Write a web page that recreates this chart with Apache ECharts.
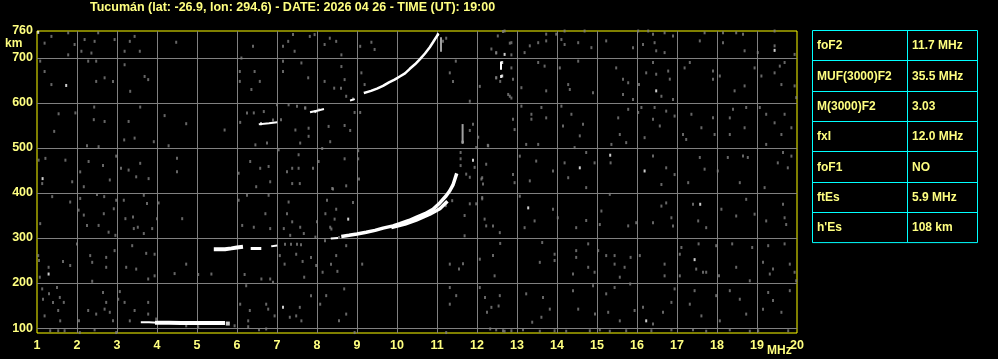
<!DOCTYPE html>
<html><head><meta charset="utf-8">
<script src="https://cdn.jsdelivr.net/npm/echarts@6/dist/echarts.min.js"></script>
<style>html,body{margin:0;padding:0;background:#000;}#c{width:998px;height:359px;}</style>
</head><body><div id="c"></div>
<script>
const titleText = 'Tucumán (lat: -26.9, lon: 294.6) - DATE: 2026 04 26 - TIME (UT): 19:00';
const heightTicks = [100, 200, 300, 400, 500, 600, 700, 760];
const heightGrid = [100, 200, 300, 400, 500, 600, 700];
const paramNames = ['foF2', 'MUF(3000)F2', 'M(3000)F2', 'fxI', 'foF1', 'ftEs', "h'Es"];
const paramValues = ['11.7 MHz', '35.5 MHz', '3.03', '12.0 MHz', 'NO', '5.9 MHz', '108 km'];

// Sporadic E trace
const esThin = [[3.62,113],[3.8,113],[4.0,112]];
const esThick = [[4.0,112],[4.3,112],[4.6,111],[5.0,111],[5.3,111],[5.65,111]];
const esDot = [[5.77,110]];
// F trace (ordinary) segments
const fSeg1 = [[5.47,275],[5.7,275],[5.86,277],[6.0,279],[6.1,280]];
const fSeg2 = [[6.38,277],[6.57,277]];
const fSeg3 = [[6.88,282],[6.98,283]];
const fSeg4 = [[8.37,299],[8.5,300]];
const fMain = [[8.65,304],[8.8,306],[9.0,309],[9.23,313],[9.45,317],[9.65,322],[9.9,327],[10.07,332],[10.3,339],[10.48,346],[10.7,354],[10.9,364],[11.07,378],[11.23,394],[11.32,405],[11.4,418],[11.48,440]];
const fLower = [[9.9,324],[10.2,331],[10.48,340],[10.82,353],[11.07,365],[11.23,379]];
// second hop
const hop2a = [[6.57,553],[6.8,555],[6.98,557]];
const hop2b = [[7.85,580],[8.0,583],[8.15,586]];
const hop2c = [[8.85,606],[8.92,608]];
const hop2d = [[9.2,623],[9.35,627],[9.5,632],[9.65,638],[9.8,646],[9.94,652],[10.07,659],[10.2,666],[10.32,676],[10.45,686],[10.57,697],[10.7,710],[10.82,724],[10.9,735],[11.02,752]];
const spike1 = [[11.1,744],[11.1,716]];
const spike2 = [[11.64,551],[11.64,513]];
const spike3 = [[12.6,690],[12.6,676]];

const noiseWhite = [[1.03,757],[1.73,639],[12.6,659],[12.69,708],[12.63,690],[12.63,660],[19.44,717],[16.48,627],[14.57,456],[15.33,484],[16.19,449],[13.28,367],[17.58,375],[1.14,432],[6.6,554],[7.96,581],[8.78,342],[1.29,220],[7.15,146],[17.44,252],[16.23,116],[11.64,513],[11.9,473],[11.02,752]];

const noiseGray = [
[1.19,733],[1.36,748],[1.08,693],[1.19,670],[1.36,641],[1.78,756],[1.94,730],[1.78,707],[2.11,715],[2.19,741],[2.36,711],[2.28,693],[2.53,756],[2.44,737],[2.48,693],[2.69,656],[2.9,648],[2.48,648],[2.94,741],[3.19,715],[3.19,685],[3.32,737],[3.44,748],[3.57,715],[3.69,659],[3.78,652],[3.33,626],[4.48,735],[6.11,700],[6.07,670],[6.07,648],[6.44,670],[6.57,648],[6.36,630],[6.4,726],[7.15,726],[7.15,693],[7.15,670],[7.28,737],[7.4,752],[7.44,715],[7.61,689],[7.82,748],[7.94,752],[7.78,656],[8.19,730],[8.32,744],[8.48,737],[8.61,707],[8.61,681],[8.69,652],[8.43,633],[8.6,633],[8.19,648],[9.08,726],[9.36,735],[9.44,719],[9.11,667],[9.19,641],[8.73,615],[8.9,609],[11.15,737],[11.23,744],[11.47,693],[11.32,667],[11.4,648],[11.82,604],[12.07,637],[12.36,720],[12.48,711],[12.48,656],[12.58,648],[12.82,733],[12.86,707],[12.78,619],[12.86,611],[12.65,759],
[12.69,760],[12.52,749],[12.48,712],[12.86,734],[13.19,712],[13.32,727],[13.53,734],[13.73,753],[13.73,738],[13.98,753],[14.11,741],[14.19,760],[14.19,730],[14.53,734],[14.69,760],[14.86,723],[15.23,738],[15.9,723],[16.03,760],[16.15,730],[16.28,760],[16.4,753],[16.44,734],[16.48,716],[16.69,756],[16.69,712],[16.9,749],[17.69,756],[17.57,738],[18.15,756],[18.15,734],[18.48,756],[18.65,753],[18.69,716],[19.02,712],[19.44,727],[19.44,760],[19.94,708],
[12.48,656],[12.86,678],[12.9,653],[12.82,615],[13.11,634],[13.53,690],[13.69,682],[13.73,627],[14.07,678],[14.28,641],[14.32,630],[14.53,693],[14.9,623],[15.48,678],[15.65,653],[15.65,619],[15.78,645],[15.9,608],[16.05,641],[16.23,667],[16.4,690],[16.48,664],[16.61,615],[16.78,671],[16.82,653],[16.9,608],[17.32,690],[17.19,678],[17.9,671],[17.9,653],[18.07,660],[18.44,627],[18.69,638],[18.94,678],[19.11,660],[19.44,667],[19.57,682],[19.61,641],[19.69,690],[19.94,638],[19.98,612],
[12.27,506],[12.9,564],[12.94,541],[13.11,593],[13.36,575],[13.36,564],[13.61,590],[13.73,567],[13.23,508],[13.53,508],[14.11,593],[14.36,575],[14.15,549],[14.65,553],[14.57,527],[14.44,501],[15.36,508],[15.53,567],[15.57,530],[15.73,512],[15.78,586],[16.03,579],[16.11,590],[16.44,590],[16.4,564],[16.57,549],[16.73,582],[16.94,571],[16.19,523],[17.15,530],[17.23,519],[17.36,575],[17.61,545],[17.9,567],[17.94,530],[18.4,586],[18.32,567],[18.32,530],[18.69,545],[18.73,590],[19.07,590],[19.23,575],[19.44,556],[19.61,530],[19.69,575],[19.86,545],[19.23,508],
[12.13,434],[12.23,464],[12.9,441],[12.94,423],[13.07,482],[13.32,427],[13.48,471],[13.9,449],[14.19,467],[14.28,434],[14.73,490],[14.73,412],[14.94,467],[15.34,467],[16.4,482],[16.73,456],[16.61,419],[16.94,441],[17.28,423],[17.57,479],[17.69,453],[18.02,449],[18.27,479],[18.57,423],[18.65,482],[18.77,479],[19.19,412],[19.52,467],[19.65,490],[19.86,482],[19.77,456],
[12.13,390],[12.23,327],[12.4,327],[12.57,312],[13.07,393],[13.44,338],[13.19,323],[13.9,364],[14.02,345],[14.48,323],[14.73,339],[15.11,360],[15.07,330],[15.32,397],[15.78,327],[15.98,334],[16.4,334],[16.61,371],[16.73,378],[16.86,345],[16.9,327],[17.4,375],[17.53,338],[17.73,323],[18.11,364],[18.48,349],[18.73,386],[18.94,353],[19.23,338],[19.65,375],[19.69,345],[19.73,330],
[1.54,576],[1.43,537],[1.96,578],[2.43,591],[2.42,563],[2.69,559],[3.29,559],[3.18,518],[3.44,522],[3.58,591],[3.92,514],[4.19,572],[4.73,554],[4.29,505],[5.69,540],[2.25,505],[2.54,503],[6.25,578],[6.42,578],[6.67,581],[7.0,596],[7.29,596],[7.5,593],[7.71,589],[7.46,540],[7.79,544],[7.79,526],[7.58,511],[8.29,548],[8.33,514],[6.46,507],[6.75,511],[6.08,557],[6.9,562],[7.1,563],[7.7,589],[8.05,585],
[1.04,473],[1.21,477],[1.13,421],[1.71,473],[2.08,447],[1.88,425],[2.29,470],[2.65,461],[2.82,429],[3.1,455],[3.29,451],[3.58,466],[3.48,436],[3.79,432],[4.5,477],[4.5,447],[2.17,414],[2.98,482],[6.04,444],[6.33,470],[6.58,455],[6.79,459],[6.83,425],[6.48,414],[7.04,496],[7.25,447],[7.38,455],[7.54,485],[7.54,455],[7.38,421],[7.57,421],[7.9,455],[8.04,470],[8.38,410],[8.13,499],
[1.38,392],[1.83,380],[2.08,388],[2.5,397],[2.68,392],[2.98,384],[3.17,384],[3.67,395],[3.75,377],[4.04,378],[2.04,362],[2.17,351],[2.67,354],[2.92,365],[3.21,343],[3.4,347],[3.52,324],[4.0,343],[4.63,343],[2.25,328],[2.54,328],[2.79,313],[2.96,306],[3.42,321],[3.88,321],[3.67,310],[1.08,332],[6.04,384],[6.25,395],[6.79,395],[6.71,354],[6.13,328],[6.42,324],[6.83,321],[7.29,380],[7.25,354],[7.38,336],[7.17,321],[7.58,324],[7.67,310],[8.0,336],[8.25,384],[8.21,354],[8.33,324],[7.96,302],[7.33,306],
[8.94,579],[9.08,579],[8.69,550],[8.83,539],[9.03,494],[9.03,476],[8.69,476],[9.05,431],[8.73,416],[8.4,409],[8.48,364],[8.9,379],[8.44,342],[8.36,320],[11.9,553],[11.82,539],[12.03,524],[12.28,505],[11.98,501],[11.59,490],[11.59,476],[11.59,461],[11.73,442],[11.94,457],[11.82,435],[12.11,431],[12.15,420],[12.13,387],[12.19,342],[11.98,376],[11.82,376],[11.69,350],[11.69,305],[11.38,383],[11.22,372],
[7.2,286],[7.35,286],[7.5,286],[7.6,285],[8.2,294],[8.55,301],
[1.03,261],[1.05,250],[1.29,235],[1.07,213],[1.65,248],[1.83,239],[2.0,287],[2.33,261],[2.38,246],[2.73,257],[2.94,272],[2.73,235],[2.38,204],[3.23,235],[3.38,283],[3.48,231],[3.73,266],[3.94,264],[3.94,216],[4.73,242],[4.44,221],[5.03,219],[5.36,220],[3.78,209],[6.19,219],[6.61,209],[6.83,209],[6.9,202],[7.07,261],[7.19,242],[7.48,264],[7.64,248],[7.68,213],[7.85,257],[7.98,239],[8.14,224],[8.35,242],[8.48,261],[8.51,226],[8.73,283],[9.13,242],[11.32,242],[11.65,243],[11.55,231],[12.07,253],[12.4,261],[12.44,216],[12.58,288],
[1.13,187],[1.15,164],[1.3,176],[1.4,157],[1.5,190],[1.57,168],[1.53,139],[1.58,116],[1.67,157],[1.19,127],[2.05,116],[2.28,139],[2.48,131],[2.65,179],[2.73,157],[2.69,142],[2.82,135],[2.9,116],[3.03,164],[3.07,181],[3.19,157],[3.32,116],[3.44,139],[3.78,131],[3.78,157],[3.98,120],[6.23,194],[6.08,153],[6.32,139],[6.28,116],[6.73,153],[6.78,142],[6.94,127],[7.32,124],[7.48,127],[7.57,146],[7.61,116],[7.85,172],[8.08,153],[8.23,172],[8.68,187],[8.55,116],[8.73,131],[11.32,190],[11.48,172],[11.32,153],[12.07,190],[12.2,168],[12.25,135],[12.36,146],[12.54,149],[12.57,172],
[1.33,94],[1.53,94],[1.69,94],[2.07,90],[2.44,96],[2.98,90],[4.73,105],[5.03,103],[5.94,105],[6.28,103],[6.55,96],[6.73,98],[8.94,90],[11.23,90],[12.33,98],[12.48,96],[12.69,93],
[13.63,290],[14.78,287],[14.48,272],[14.48,257],[13.94,264],[13.57,246],[13.94,250],[14.4,220],[14.78,235],[14.94,224],[15.03,272],[15.23,261],[15.44,261],[15.69,235],[15.44,242],[15.57,213],[15.84,257],[16.07,261],[16.69,242],[16.69,216],[17.07,264],[17.11,279],[17.54,287],[17.65,224],[17.73,224],[17.48,231],[17.98,283],[18.05,216],[18.38,287],[18.48,235],[18.88,279],[19.15,246],[19.28,283],[19.4,231],[19.32,220],[19.69,287],[19.82,242],[19.94,224],[18.82,205],[17.07,216],
[13.23,176],[13.65,168],[13.82,142],[13.61,124],[13.38,113],[14.53,142],[14.4,183],[14.9,194],[14.95,131],[15.28,135],[15.44,190],[15.23,176],[15.57,116],[15.83,198],[15.94,139],[16.15,146],[16.4,109],[16.65,135],[16.86,157],[16.94,187],[17.32,153],[17.44,183],[17.61,127],[17.98,172],[18.07,116],[18.32,183],[18.57,164],[18.73,131],[19.15,142],[19.28,179],[19.4,161],[19.61,135],[19.82,183],[19.98,205],
[12.65,94],[12.86,94],[13.15,96],[13.57,93],[13.94,94],[14.23,93],[14.82,94],[15.07,96],[15.32,93],[15.73,94],[16.36,94],[16.86,96],[17.4,96],[17.73,93],[18.32,96],[18.82,93],[19.03,94],[19.78,94]
];

const FONT = '"Liberation Sans", Arial, sans-serif';
const YEL = '#ffff80';
const chart = echarts.init(document.getElementById('c'), null, {renderer: 'canvas'});

function lineSeries(data, width, color) {
  return {type: 'line', data: data, showSymbol: false, silent: true, animation: false,
    lineStyle: {color: color || '#ffffff', width: width, cap: 'square'}, z: 5};
}
function dotSeries(data, color, size) {
  return {type: 'scatter', data: data, symbol: 'rect', symbolSize: size, silent: true,
    animation: false, itemStyle: {color: color}, z: 4};
}

const rowH = 30.3, tX = 812, tY = 30, tW = 165, colX = 907;
const graphics = [
  {type: 'rect', shape: {x: tX + 0.5, y: tY + 0.5, width: tW, height: rowH * 7}, style: {fill: 'none', stroke: '#00ffff', lineWidth: 1}},
  {type: 'line', shape: {x1: colX + 0.5, y1: tY, x2: colX + 0.5, y2: tY + rowH * 7}, style: {stroke: '#00ffff', lineWidth: 1}},
  {type: 'text', left: 5, top: 38, style: {text: 'km', fill: YEL, font: 'bold 12px ' + FONT}},
  {type: 'text', left: 767, top: 345, style: {text: 'MHz', fill: YEL, font: 'bold 12px ' + FONT}}
];
for (let i = 1; i < 7; i++) {
  const y = Math.round(tY + rowH * i) + 0.5;
  graphics.push({type: 'line', shape: {x1: tX, y1: y, x2: tX + tW, y2: y}, style: {stroke: '#00ffff', lineWidth: 1}});
}
paramNames.forEach((n, i) => {
  const cy = tY + rowH * i + rowH / 2 + 1;
  graphics.push({type: 'text', x: 817, y: cy, style: {text: n, fill: YEL, font: 'bold 12px ' + FONT, verticalAlign: 'middle'}});
  graphics.push({type: 'text', x: 912, y: cy, style: {text: paramValues[i], fill: YEL, font: 'bold 12px ' + FONT, verticalAlign: 'middle'}});
});

const option = {
  backgroundColor: '#000000',
  animation: false,
  title: {text: titleText, left: 90, top: 1, padding: 0, textStyle: {color: YEL, fontSize: 12.5, fontWeight: 'bold', fontFamily: FONT}},
  grid: {left: 37, right: 201, top: 31, bottom: 26, show: true, borderColor: '#ffff00', borderWidth: 1, backgroundColor: '#000'},
  xAxis: {type: 'value', min: 1, max: 20, interval: 1,
    axisLine: {show: false}, axisTick: {show: false},
    axisLabel: {color: YEL, fontSize: 12.5, fontWeight: 'bold', fontFamily: FONT, margin: 6, showMinLabel: true, showMaxLabel: true},
    splitLine: {show: true, showMinLine: false, showMaxLine: false, lineStyle: {color: '#808080', width: 1}}},
  yAxis: {type: 'value', min: 89, max: 760,
    axisLine: {show: false}, axisTick: {show: false},
    axisLabel: {color: YEL, fontSize: 12.5, fontWeight: 'bold', fontFamily: FONT, margin: 4, customValues: heightTicks},
    splitLine: {show: false}},
  graphic: graphics,
  series: [
    {type: 'line', data: [], silent: true, animation: false,
      markLine: {silent: true, symbol: 'none', animation: false, label: {show: false},
        lineStyle: {color: '#808080', width: 1, type: 'solid'},
        data: heightGrid.map(v => ({yAxis: v}))}, z: 1},
    dotSeries(noiseGray, '#808080', [2, 3]),
    dotSeries(noiseWhite, '#ffffff', [2, 3]),
    lineSeries(esThin, 2), lineSeries(esThick, 4), dotSeries(esDot, '#ffffff', [4, 4]),
    lineSeries(fSeg1, 4), lineSeries(fSeg2, 3), lineSeries(fSeg3, 2), lineSeries(fSeg4, 2),
    lineSeries(fMain, 3.5), lineSeries(fLower, 3.5),
    lineSeries(hop2a, 2), lineSeries(hop2b, 2), lineSeries(hop2c, 2), lineSeries(hop2d, 2.5),
    lineSeries(spike1, 2, '#a0a0a0'), lineSeries(spike2, 2, '#a0a0a0'), lineSeries(spike3, 2, '#ffffff')
  ]
};
chart.setOption(option);
</script></body></html>
